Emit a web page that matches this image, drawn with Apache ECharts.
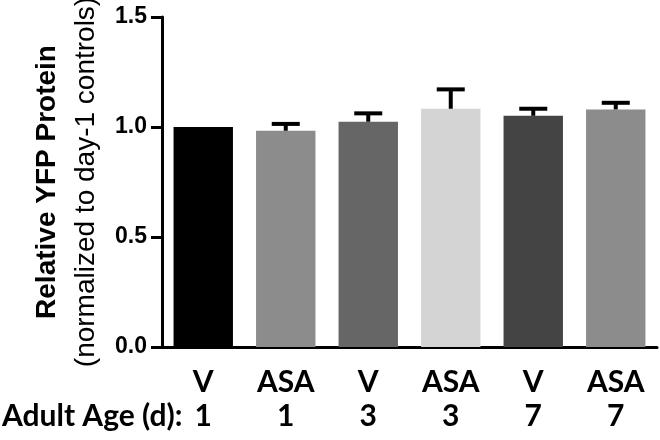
<!DOCTYPE html>
<html><head><meta charset="utf-8">
<script src="https://cdn.jsdelivr.net/npm/echarts@6/dist/echarts.min.js"></script>
<style>html,body{margin:0;padding:0;background:#fff}#c{width:660px;height:440px}</style>
</head><body><div id="c"></div>
<script>
const treatments = ['V','ASA','V','ASA','V','ASA'];
const ages = ['1','1','3','3','7','7'];
const means = [1.00, 0.983, 1.024, 1.083, 1.051, 1.080];
const errUpper = [1.00, 1.014, 1.062, 1.171, 1.083, 1.110];
const barColors = ['#000000','#8c8c8c','#666666','#d4d4d4','#444444','#8c8c8c'];
const yTicks = [0, 0.5, 1.0, 1.5];
const yTitle = 'Relative YFP Protein';
const ySubtitle = '(normalized to day-1 controls)';
const ageLabel = 'Adult Age (d):';

const cats = treatments.map((t,i)=>t+'|'+i);
const chart = echarts.init(document.getElementById('c'));
chart.setOption({
  animation:false,
  grid:{left:162,right:3,top:17,bottom:93,containLabel:false,outerBoundsMode:'none'},
  xAxis:{
    type:'category', data:cats,
    axisLine:{lineStyle:{color:'#000',width:3}},
    axisTick:{alignWithLabel:true,length:8,lineStyle:{color:'#000',width:3}},
    axisLabel:{
      margin:18,interval:0,
      formatter:(v,i)=>'{a|'+treatments[i]+'}\n{a|'+ages[i]+'}',
      rich:{a:{fontFamily:'Lato',fontWeight:'bold',fontSize:30,lineHeight:34,color:'#000'}}
    }
  },
  yAxis:{
    type:'value',min:yTicks[0],max:yTicks[yTicks.length-1],interval:0.5,
    axisLine:{show:true,lineStyle:{color:'#000',width:3}},
    axisTick:{show:true,length:11,lineStyle:{color:'#000',width:3}},
    splitLine:{show:false},
    axisLabel:{margin:15,formatter:v=>v.toFixed(1),fontFamily:'Liberation Sans',fontWeight:'bold',fontSize:23,color:'#000'},
    name:'{t|'+yTitle+'}\n{s|'+ySubtitle+'}',
    nameLocation:'middle',nameRotate:90,nameGap:56,
    nameTextStyle:{fontSize:28,rich:{
      t:{fontFamily:'Liberation Sans',fontWeight:'bold',fontSize:28,lineHeight:39,color:'#000'},
      s:{fontFamily:'Liberation Sans',fontWeight:'normal',fontSize:28,lineHeight:39,color:'#000'}
    }}
  },
  graphic:[{type:'text',x:2,y:416,style:{text:ageLabel,fontFamily:'Lato',fontWeight:'bold',fontSize:30,fill:'#000',verticalAlign:'middle'}}],
  series:[
    {type:'bar',barCategoryGap:'28%',data:means.map((v,i)=>({value:v,itemStyle:{color:barColors[i]}}))},
    {type:'custom',data:means.map((v,i)=>[i,v,errUpper[i]]),z:5,
     renderItem:(params,api)=>{
       const x=api.value(0);
       if (api.value(2) <= api.value(1)) return null;
       const p0=api.coord([x,api.value(1)]);
       const p1=api.coord([x,api.value(2)]);
       const hw=14;
       return {type:'group',children:[
         {type:'line',shape:{x1:p0[0],y1:p0[1],x2:p1[0],y2:p1[1]},style:{stroke:'#000',lineWidth:4}},
         {type:'line',shape:{x1:p1[0]-hw,y1:p1[1],x2:p1[0]+hw,y2:p1[1]},style:{stroke:'#000',lineWidth:4}}
       ]};
     }}
  ]
});
</script></body></html>
